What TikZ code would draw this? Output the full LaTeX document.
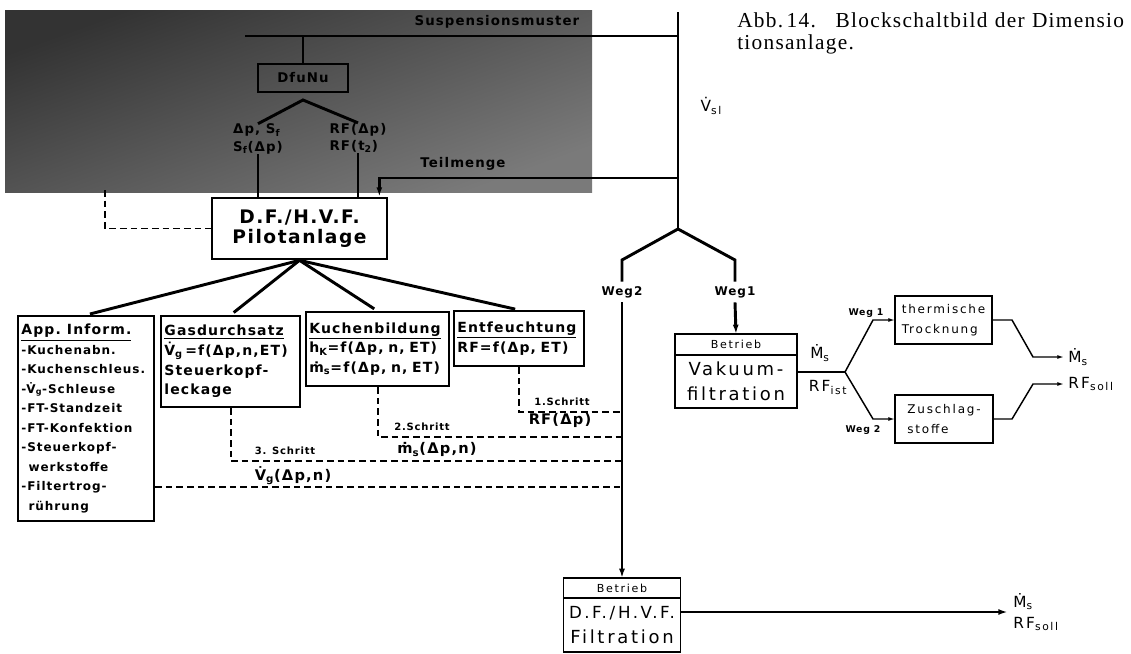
\documentclass[tikz,border=0pt]{standalone}
\usepackage{fontspec}
\setmainfont{Liberation Serif}[LetterSpace=6]
\newfontfamily\techfont{DejaVu Sans}[LetterSpace=15]
\newfontfamily\boldfont{DejaVu Sans}[LetterSpace=8]
\usetikzlibrary{arrows.meta, positioning}

\newcommand{\graufett}{\boldfont\bfseries\fontsize{10}{13}\selectfont}
\newcommand{\pilotfont}{\boldfont\bfseries\fontsize{14}{15}\selectfont}
\newcommand{\titelfont}{\boldfont\bfseries\fontsize{10.5}{14.8}\selectfont}
\newcommand{\listfont}{\boldfont\bfseries\fontsize{9}{14.6}\selectfont}
\newcommand{\schrittfont}{\boldfont\bfseries\fontsize{7.5}{9}\selectfont}
\newcommand{\formelfont}{\boldfont\bfseries\fontsize{11}{13}\selectfont}
\newcommand{\wegfont}{\boldfont\bfseries\fontsize{9}{11}\selectfont}
\newcommand{\wegklein}{\boldfont\bfseries\fontsize{7}{9}\selectfont}
\newcommand{\gross}{\techfont\fontsize{13.5}{18.75}\selectfont}
\newcommand{\mittel}{\techfont\fontsize{9}{15}\selectfont}
\newcommand{\klein}{\techfont\fontsize{8.3}{10}\selectfont}
\newcommand{\ausgang}{\techfont\fontsize{11.5}{15.75}\selectfont}

\begin{document}
\begin{tikzpicture}[
    x=0.75pt, y=-0.75pt,
    dick/.style={line width=2.2pt},
    duenn/.style={line width=1.1pt},
    strich/.style={line width=1.4pt, dash pattern=on 5pt off 3pt},
    kasten/.style={draw, line width=1.6pt, align=left, anchor=north west, inner sep=2.5pt},
    block/.style={draw, line width=1.1pt, align=center, inner sep=0pt, outer sep=0pt},
    pfeil/.style={-{Latex[length=7pt, width=4.5pt]}},
    pfeilchen/.style={-{Latex[length=5pt, width=3pt]}},
    etikett/.style={inner sep=0pt, align=left}
]
\useasboundingbox (0,0) rectangle (1131,653);

% grauer Bereich
\shade[top color=black!80, bottom color=black!52, shading angle=20] (5,10) rectangle (592,192);
\node[font=\graufett, anchor=east] (susp) at (584,22) {Suspensionsmuster};
\coordinate (vtop) at (678,12);
\coordinate (verz) at (678,229);
\coordinate (suspl) at (245,36);
\draw[dick] (suspl) -- (suspl -| vtop);
\draw[dick] (vtop) -- (verz);

\node[draw, line width=1.5pt, minimum width=67.5pt, minimum height=21pt, font=\graufett] (dfunu) at (303,78) {DfuNu};
\draw[dick] (dfunu.north |- suspl) -- (dfunu.north);
\coordinate (dfspitze) at (303,100);
\node[etikett, font=\graufett] (sfl) at (258,139) {Δp, S\textsubscript{f}\\S\textsubscript{f}(Δp)};
\node[etikett, font=\graufett] (rfr) at (358,138) {RF(Δp)\\RF(t\textsubscript{2})};
\draw[dick] (sfl.north) -- (dfspitze) -- (rfr.north);

% Pilotanlage
\node[draw, line width=2pt, minimum width=131.25pt, minimum height=45.75pt, align=center, font=\pilotfont] (pilot) at (299.5,228.5) {D.F./H.V.F.\\Pilotanlage};
\draw[dick] (sfl.south) -- (sfl.south |- pilot.north);
\draw[dick] (rfr.south) -- (rfr.south |- pilot.north);

\coordinate (teil) at (678,178);
\node[font=\graufett, anchor=south] (teiltext) at (463,175) {Teilmenge};
\draw[dick, pfeil] (teil) -| ([xshift=-6.75pt]pilot.north east);

\coordinate (ptanl) at (105,190);
\draw[strich] (ptanl) |- (pilot.west);

% Ergebnisse der Pilotanlage
\node[kasten, text width=97pt, minimum height=153.75pt, font=\listfont] (app) at (17,315) {%
  {\fontsize{10.5}{14.6}\selectfont\underline{App. Inform.}}\\
  -Kuchenabn.\\
  -Kuchenschleus.\\
  -V̇\textsubscript{g}-Schleuse\\
  -FT-Standzeit\\
  -FT-Konfektion\\
  -Steuerkopf-\\
  \hspace*{0.6em}werkstoffe\\
  -Filtertrog-\\
  \hspace*{0.6em}rührung};
\node[kasten, text width=99.25pt, minimum height=68.25pt, font=\titelfont] (gas) at (160,315) {%
  \underline{Gasdurchsatz}\\
  \mbox{V̇\textsubscript{g}\,=f(Δp,n,ET)}\\
  Steuerkopf-\\
  leckage};
\node[kasten, text width=102.25pt, minimum height=55.5pt, font=\titelfont] (kuchen) at (305,311) {%
  \underline{Kuchenbildung}\\
  h\textsubscript{K}=f(Δp, n, ET)\\
  ṁ\textsubscript{s}=f(Δp, n, ET)};
\node[kasten, text width=92.5pt, minimum height=41.25pt, font=\titelfont] (entf) at (453,310) {%
  \underline{Entfeuchtung}\\
  RF=f(Δp, ET)};

\foreach \z in {app, gas, kuchen, entf}
  \draw[dick, shorten >=3pt] (pilot.south) -- (\z.north);

% Schritte zur Filtration
\coordinate (s1) at (622,412);
\coordinate (s2) at (622,437);
\coordinate (s3) at (622,461);
\coordinate (s4) at (622,487);
\draw[strich] (entf.south) |- (s1);
\draw[strich] (kuchen.south) |- (s2);
\draw[strich] (gas.south) |- (s3);
\draw[strich] (app.east |- s4) -- (s4);

\node[font=\schrittfont, anchor=south] (schritt1) at (562,410) {1.Schritt};
\node[font=\formelfont, anchor=north] (formel1) at (560,409) {RF(Δp)};
\node[font=\schrittfont, anchor=south] (schritt2) at (422,435) {2.Schritt};
\node[font=\formelfont, anchor=north] (formel2) at (437,438) {ṁ\textsubscript{s}(Δp,n)};
\node[font=\schrittfont, anchor=south] (schritt3) at (285,459) {3. Schritt};
\node[font=\formelfont, anchor=north] (formel3) at (293,462) {V̇\textsubscript{g}(Δp,n)};

% Wege
\node[font=\ausgang, anchor=west] (vsl) at (696,106) {V̇\textsubscript{sl}};
\node[font=\wegfont] (weg2) at (622,292) {Weg2};
\node[font=\wegfont] (weg1) at (735,292) {Weg1};
\coordinate (w2o) at (622,260);
\coordinate (w1o) at (735,260);
\draw[dick] (weg2.north) -- (w2o) -- (verz) -- (w1o) -- (weg1.north);

% Vakuumfiltration
\node[block, minimum width=91.5pt, minimum height=15.75pt, font=\klein] (vakbetrieb) at (736,344.5) {Betrieb};
\node[block, minimum width=91.5pt, minimum height=39.75pt, font=\gross, below=0pt of vakbetrieb] (vakuum) {Vakuum-\\filtration};
\draw[dick, pfeil] (weg1.south) -- (vakbetrieb.north);

\coordinate (ab) at (845,372);
\draw[duenn] (vakuum.east |- ab) -- (ab);
\node[font=\ausgang, anchor=south] (msist) at (820,366) {Ṁ\textsubscript{s}};
\node[font=\ausgang, anchor=north] (rfist) at (828,376) {RF\textsubscript{ist}};

\node[block, minimum width=72.75pt, minimum height=36pt, font=\mittel, align=left] (thermo) at (943.5,320) {thermische\\Trocknung};
\node[block, minimum width=73.5pt, minimum height=36pt, font=\mittel, align=left] (zuschlag) at (944,419) {Zuschlag-\\stoffe};
\draw[duenn, pfeilchen] (ab) -- (873,320) -- (thermo.west);
\draw[duenn, pfeilchen] (ab) -- (873,419) -- (zuschlag.west);
\node[font=\wegklein] (wegeins) at (866,313) {Weg 1};
\node[font=\wegklein] (wegzwei) at (863,430) {Weg 2};

\node[etikett, font=\ausgang, anchor=west] (msoll) at (1068,357) {Ṁ\textsubscript{s}};
\node[etikett, font=\ausgang, anchor=west] (rfsoll) at (1068,384) {RF\textsubscript{soll}};
\draw[duenn, pfeilchen] (thermo.east) -- ++(20,0) -- (1033,357) -- ([xshift=-3pt]msoll.west);
\draw[duenn, pfeilchen] (zuschlag.east) -- ++(19,0) -- (1033,384) -- ([xshift=-3pt]rfsoll.west);

% D.F./H.V.F.-Filtration
\node[block, minimum width=87.75pt, minimum height=15pt, font=\klein] (betrieb2) at (622,588) {Betrieb};
\node[block, minimum width=87.75pt, minimum height=40.5pt, font=\gross, below=0pt of betrieb2] (filtr) {{\fontsize{12.5}{18.75}\selectfont D.F.\,/\,H.V.F.}\\Filtration};
\draw[dick, pfeil] (weg2.south) -- (betrieb2.north);
\node[etikett, font=\ausgang, anchor=west] (endaus) at (1013,612) {Ṁ\textsubscript{s}\\RF\textsubscript{soll}};
\draw[dick, pfeil, shorten >=4pt] (filtr.east |- endaus.west) -- (endaus.west);

% Bildunterschrift
\node[anchor=north west, inner sep=0pt, align=left, font=\fontsize{16}{17}\selectfont] (titel) at (737,12) {\makebox[290pt][s]{Abb.\,14.\hspace{0.4em} Blockschaltbild der Dimensio}\\tionsanlage.};
\end{tikzpicture}
\end{document}
